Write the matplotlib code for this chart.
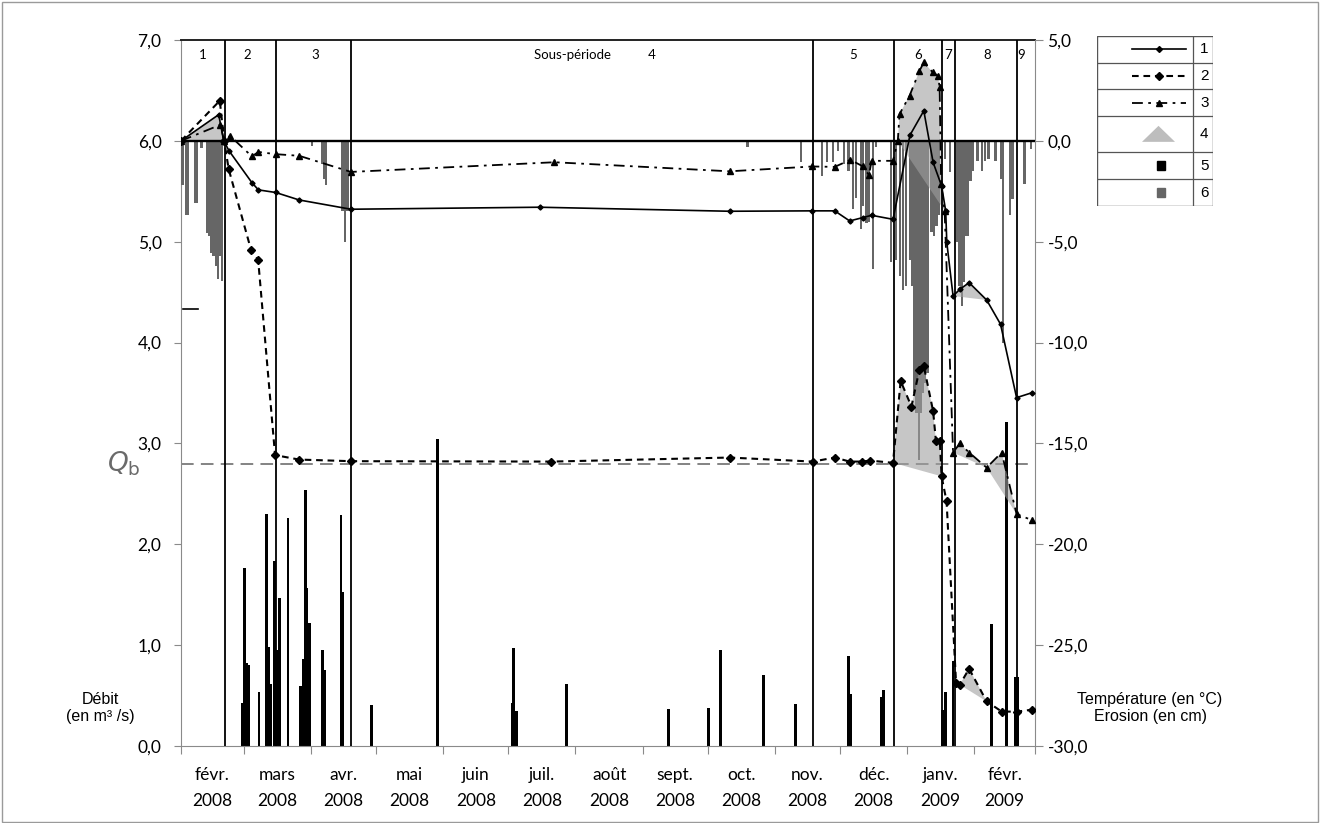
import numpy as np
import pandas as pd
import matplotlib
matplotlib.use("Agg")
import matplotlib.pyplot as plt
from matplotlib.patches import Rectangle, Polygon
from matplotlib.transforms import blended_transform_factory

# ---------------- data (x = days since 1 Feb 2008) ----------------
start_date = "2008-02-01"
end_date = "2009-03-01"
month_labels = ["févr.\n2008", "mars\n2008", "avr.\n2008", "mai\n2008", "juin\n2008",
                "juil.\n2008", "août\n2008", "sept.\n2008", "oct.\n2008", "nov.\n2008",
                "déc.\n2008", "janv.\n2009", "févr.\n2009"]

period_bounds = [20.2, 43.7, 78.4, 291.6, 329.0, 351.2, 357.0, 385.8]
period_labels = ["1", "2", "3", "Sous-période           4", "5", "6", "7", "8", "9"]
period_label_day = [10.2, 30.5, 61.9, 191.2, 309.9, 340.0, 353.8, 371.8, 387.5]

left_ticks = [0, 1, 2, 3, 4, 5, 6, 7]
right_ticks = [-30, -25, -20, -15, -10, -5, 0, 5]
qb_value = 2.8

# Series 1 (erosion, solid)
s1_day = [0, 17.4, 19.7, 22.2, 32.7, 35.7, 43.7, 54.5, 78.4, 165.4, 253.1, 291.3, 301.6,
          308.5, 314.7, 318.6, 328.5, 336.3, 342.7, 347.0, 350.9, 352.8, 353.3, 356.2,
          359.3, 363.6, 371.7, 378.1, 385.5, 392.5]
s1_val = [0, 1.3, 0.0, -0.5, -2.07, -2.43, -2.56, -2.93, -3.39, -3.29, -3.49, -3.47, -3.47,
          -3.97, -3.8, -3.69, -3.89, 0.28, 1.49, -1.07, -2.23, -3.47, -5.03, -7.69,
          -7.36, -7.03, -7.89, -9.09, -12.73, -12.49]

# Series 2 (erosion, dashed)
s2_day = [0, 17.9, 19.9, 22.0, 32.3, 35.6, 43.4, 54.5, 78.4, 170.9, 253.1, 291.5, 301.6,
          308.5, 314.1, 317.8, 328.5, 332.0, 337.0, 340.6, 342.7, 347.0, 348.3, 350.1,
          350.9, 353.2, 357.6, 359.3, 363.6, 371.7, 378.6, 385.5, 392.5]
s2_val = [0, 1.99, 0.0, -1.4, -5.4, -5.9, -15.58, -15.8, -15.88, -15.9, -15.7, -15.9, -15.7,
          -15.9, -15.9, -15.85, -15.96, -11.9, -13.17, -11.38, -11.17, -13.4, -14.89, -14.89,
          -16.63, -17.87, -26.9, -26.96, -26.17, -27.79, -28.29, -28.3, -28.2]

# Series 3 (erosion, dash-dot)
s3_day = [0, 18.2, 19.9, 22.6, 32.7, 35.7, 43.7, 54.5, 78.4, 172.3, 253.1, 291.3, 301.6,
          308.8, 314.7, 317.4, 318.6, 328.5, 330.7, 331.5, 336.1, 340.7, 342.7, 346.9,
          349.2, 350.0, 350.7, 352.3, 356.2, 359.3, 363.6, 371.7, 378.6, 385.5, 392.5]
s3_val = [0, 0.8, 0, 0.25, -0.77, -0.55, -0.66, -0.74, -1.54, -1.06, -1.51, -1.27, -1.29,
          -0.94, -1.27, -1.70, -0.99, -0.99, 0.0, 1.33, 2.23, 3.47, 3.89, 3.39,
          3.23, 2.67, -2.15, -3.47, -15.45, -15.0, -15.45, -16.2, -15.45, -18.5, -18.8]

# Series 4 (shaded accumulation areas): series, first day, last day
fill_series = ["1", "3", "2", "1", "3", "3", "2"]
fill_first = [0, 330.7, 328.5, 356.2, 356.2, 371.7, 359.3]
fill_last = [19.7, 352.3, 350.9, 371.7, 371.7, 385.5, 371.7]

# Series 5 (discharge, m3/s)
q_day = [28.3, 29.4, 30.3, 31.2, 36.0, 39.6, 40.6, 41.4, 43.1, 43.9, 45.3, 49.4, 55.3, 56.4,
         57.3, 58.1, 59.4, 65.3, 66.1, 73.8, 74.5, 87.9, 118.4, 153.0, 153.5, 154.6, 178.0,
         224.9, 243.4, 248.8, 268.8, 283.6, 307.9, 308.8, 323.2, 324.2, 351.5, 352.7, 356.2,
         374.0, 380.9, 385.0, 386.1]
q_val = [0.43, 1.76, 0.82, 0.80, 0.54, 2.30, 0.98, 0.61, 1.83, 0.95, 1.47, 2.26, 0.59, 0.86,
         2.54, 1.57, 1.22, 0.95, 0.75, 2.29, 1.53, 0.41, 3.04, 0.43, 0.97, 0.35, 0.61,
         0.37, 0.38, 0.95, 0.70, 0.42, 0.89, 0.52, 0.49, 0.56, 0.36, 0.54, 0.84,
         1.21, 3.21, 0.68, 0.68]

# Series 6 (negative air temperature, degC)
t_day = [0.7, 2.3, 3.2, 6.5, 7.4, 9.5, 12, 13, 14, 15, 16, 17, 18, 19, 60.3, 65, 66, 67,
         74.5, 75.8, 76.8, 261.4, 285.9, 295.6, 297.9, 300.7, 303.0, 306.0, 308.0, 309.9,
         311.5, 313.6, 314.5, 316.2, 317.3, 319.2, 320.8, 327.5, 330.0, 331.6, 333.2, 334.6,
         336.4, 337.3, 338.3, 339.3, 340.4, 341.4, 342.4, 343.4, 344.4, 346.2, 347.3, 348.5,
         349.7, 352.6, 354.9, 358.2, 359.2, 360.2, 361.2, 362.2, 363.2, 364.2, 365.2, 367.5,
         369.4, 371.0, 372.6, 375.8, 378.2, 379.4, 382.5, 383.6, 389.1, 392.1]
t_val = [-2.2, -3.7, -3.7, -3.1, -3.1, -0.35, -4.55, -4.7, -5.55, -5.7, -6.2, -6.85, -5.7,
         -6.95, -0.25, -1.15, -1.9, -2.2, -3.5, -5.0, -3.5, -0.3, -1.07, -1.75, -1.07, -1.07,
         -0.5, -1.16, -1.5, -3.39, -2.81, -4.38, -3.23, -4.05, -4.0, -6.37, -0.3, -6.0, -5.9,
         -6.7, -7.4, -7.2, -5.9, -7.2, -12.5, -13.5, -15.8, -13.5, -12.5, -12.0, -11.5, -4.5,
         -4.7, -4.2, -3.7, -0.9, -1.56, -5.0, -7.2, -8.2, -7.0, -4.7, -4.7, -2.0, -1.5, -1.0,
         -1.5, -1.0, -0.9, -1.0, -1.9, -10.0, -3.7, -2.9, -2.15, -0.4]

legend_labels = ["1", "2", "3", "4", "5", "6"]

# ---------------- figure ----------------
W, H = 1320, 823
fig = plt.figure(figsize=(W / 100, H / 100), dpi=100)
fig.patch.set_facecolor("white")


def fx(px):
    return px / W


def fy(py):
    return 1 - py / H


TICK_FONT = "Lato"
TXT_FONT = "Liberation Sans"
DARK_BAR = "#666666"
FILL = "#a0a0a0"
AXC = "#8a8a8a"
S2_DASH = (3.2, 2.3)
S3_DASH = (6, 3, 1.5, 3)

ax = fig.add_axes([fx(181), fy(746), fx(1035) - fx(181), fy(40) - fy(746)])
ax2 = ax.twinx()

base = pd.Timestamp(start_date)
month_starts = pd.date_range(start_date, end_date, freq="MS")
month_days = np.asarray((month_starts - base).days, dtype=float)
month_mid = (month_days[:-1] + month_days[1:]) / 2

ax.set_xlim(month_days[0], month_days[-1])
ax.set_ylim(left_ticks[0], left_ticks[-1])
ax2.set_ylim(right_ticks[0], right_ticks[-1])

# discharge bars
ax.bar(q_day, q_val, width=1.3, color="black", zorder=2)
# Qb line
ax.axhline(qb_value, color="#7a7a7a", lw=1.3, dashes=(7, 4), zorder=1)
ax.axhline(4.33, xmin=0.002, xmax=0.02, color="black", lw=1.2)
trans_q = blended_transform_factory(ax.transAxes, ax.transData)
ax.text(-0.047, qb_value, r"$Q_{\mathrm{b}}$", transform=trans_q, ha="right", va="center",
        fontsize=19, color="#6a6a6a")

# temperature bars
ax2.bar(t_day, t_val, width=1.05, color=DARK_BAR, zorder=1, linewidth=0)

series = {"1": (s1_day, s1_val), "2": (s2_day, s2_val), "3": (s3_day, s3_val)}
for name, a, b in zip(fill_series, fill_first, fill_last):
    d = np.array(series[name][0])
    v = np.array(series[name][1])
    m = (d >= a - 1e-6) & (d <= b + 1e-6)
    ax2.fill(d[m], v[m], color=FILL, alpha=0.6, lw=0, zorder=2)

# zero line
ax2.axhline(0, color="black", lw=1.7, zorder=3)

# period boundaries
for b in period_bounds:
    ax2.axvline(b, color="black", lw=1.3, zorder=5)

# period labels
tr_lab = blended_transform_factory(ax2.transData, ax2.transAxes)
for xc, lab in zip(period_label_day, period_labels):
    ax2.text(xc, 0.979, lab, transform=tr_lab, ha="center", va="center", fontsize=9.5,
             family=TICK_FONT, zorder=6)

# erosion lines
ax2.plot(s1_day, s1_val, color="black", lw=1.2, marker="D", ms=2.6, zorder=6)
ax2.plot(s2_day, s2_val, color="black", lw=1.5, dashes=S2_DASH, marker="D", ms=3.6, zorder=6)
ax2.plot(s3_day, s3_val, color="black", lw=1.3, dashes=S3_DASH, marker="^", ms=4.8, zorder=6)

# axes styling
ax.spines["right"].set_visible(False)
for s in ["left", "bottom", "top"]:
    ax2.spines[s].set_visible(False)
ax.spines["left"].set_color(AXC)
ax.spines["bottom"].set_color(AXC)
ax.spines["top"].set_color("#222222")
ax.spines["top"].set_linewidth(1.4)
ax2.spines["right"].set_color(AXC)

ax.set_yticks(left_ticks)
ax.set_yticklabels([f"{v:.1f}".replace(".", ",") for v in left_ticks])
ax2.set_yticks(right_ticks)
ax2.set_yticklabels([f"{v:.1f}".replace(".", ",") for v in right_ticks])
ax.tick_params(axis="y", length=5, color=AXC, pad=9, labelsize=12.5)
ax2.tick_params(axis="y", length=6, color=AXC, pad=3, labelsize=12.5)
for lab in ax.get_yticklabels() + ax2.get_yticklabels():
    lab.set_family(TICK_FONT)

ax.set_xticks(month_days)
ax.set_xticklabels([""] * len(month_days))
ax.set_xticks(month_mid, minor=True)
ax.set_xticklabels(month_labels, minor=True)
ax.tick_params(axis="x", which="major", length=6, color=AXC)
ax.tick_params(axis="x", which="minor", length=0, pad=15, labelsize=12.5)
for lab in ax.get_xticklabels(minor=True):
    lab.set_family(TICK_FONT)
    lab.set_linespacing(1.75)

# axis titles
fig.text(fx(100), fy(708), "Débit\n(en m³ /s)", ha="center", va="center", fontsize=11.5,
         family=TXT_FONT, linespacing=1.15)
fig.text(fx(1150), fy(708), "Température (en °C)\nErosion (en cm)", ha="center", va="center",
         fontsize=11.5, family=TXT_FONT, linespacing=1.15)

# ---------------- legend table ----------------
lax = fig.add_axes([fx(1097), fy(206), fx(1213) - fx(1097), fy(36) - fy(206)])
lax.set_xlim(1097, 1213)
lax.set_ylim(206, 36)
lax.axis("off")
rows = [36, 62.7, 89.3, 116, 151.7, 179.3, 206]
LEGC = "#555555"
lax.add_patch(Rectangle((1097, 36), 116, 170, fill=False, edgecolor=LEGC, lw=1.0))
for r in rows[1:-1]:
    lax.plot([1097, 1213], [r, r], color=LEGC, lw=0.9)
lax.plot([1193, 1193], [36, 206], color=LEGC, lw=0.9)
centers = [(rows[i] + rows[i + 1]) / 2 for i in range(6)]
lax.plot([1132, 1186], [centers[0]] * 2, color="black", lw=1.2)
lax.plot([1159], [centers[0]], marker="D", ms=3.0, color="black")
lax.plot([1132, 1186], [centers[1]] * 2, color="black", lw=1.5, dashes=S2_DASH)
lax.plot([1159], [centers[1]], marker="D", ms=3.8, color="black")
lax.plot([1132, 1186], [centers[2]] * 2, color="black", lw=1.3, dashes=S3_DASH)
lax.plot([1159], [centers[2]], marker="^", ms=5.0, color="black")
lax.add_patch(Polygon([(1142, centers[3] + 8), (1158.5, centers[3] - 8), (1175, centers[3] + 8)],
                      closed=True, color="#bdbdbd", lw=0))
lax.add_patch(Rectangle((1156.5, centers[4] - 4.2), 8.5, 8.5, color="black"))
lax.add_patch(Rectangle((1156.5, centers[5] - 4.2), 8.5, 8.5, color=DARK_BAR))
for c, lab in zip(centers, legend_labels):
    lax.text(1200, c, lab, ha="left", va="center", fontsize=11, family=TXT_FONT)

# outer frame
fig.patches.append(Rectangle((fx(2), fy(822)), fx(1318) - fx(2), fy(2) - fy(822),
                             transform=fig.transFigure, fill=False, edgecolor="#9a9a9a", lw=1.0))

fig.savefig("out.png", dpi=100)
